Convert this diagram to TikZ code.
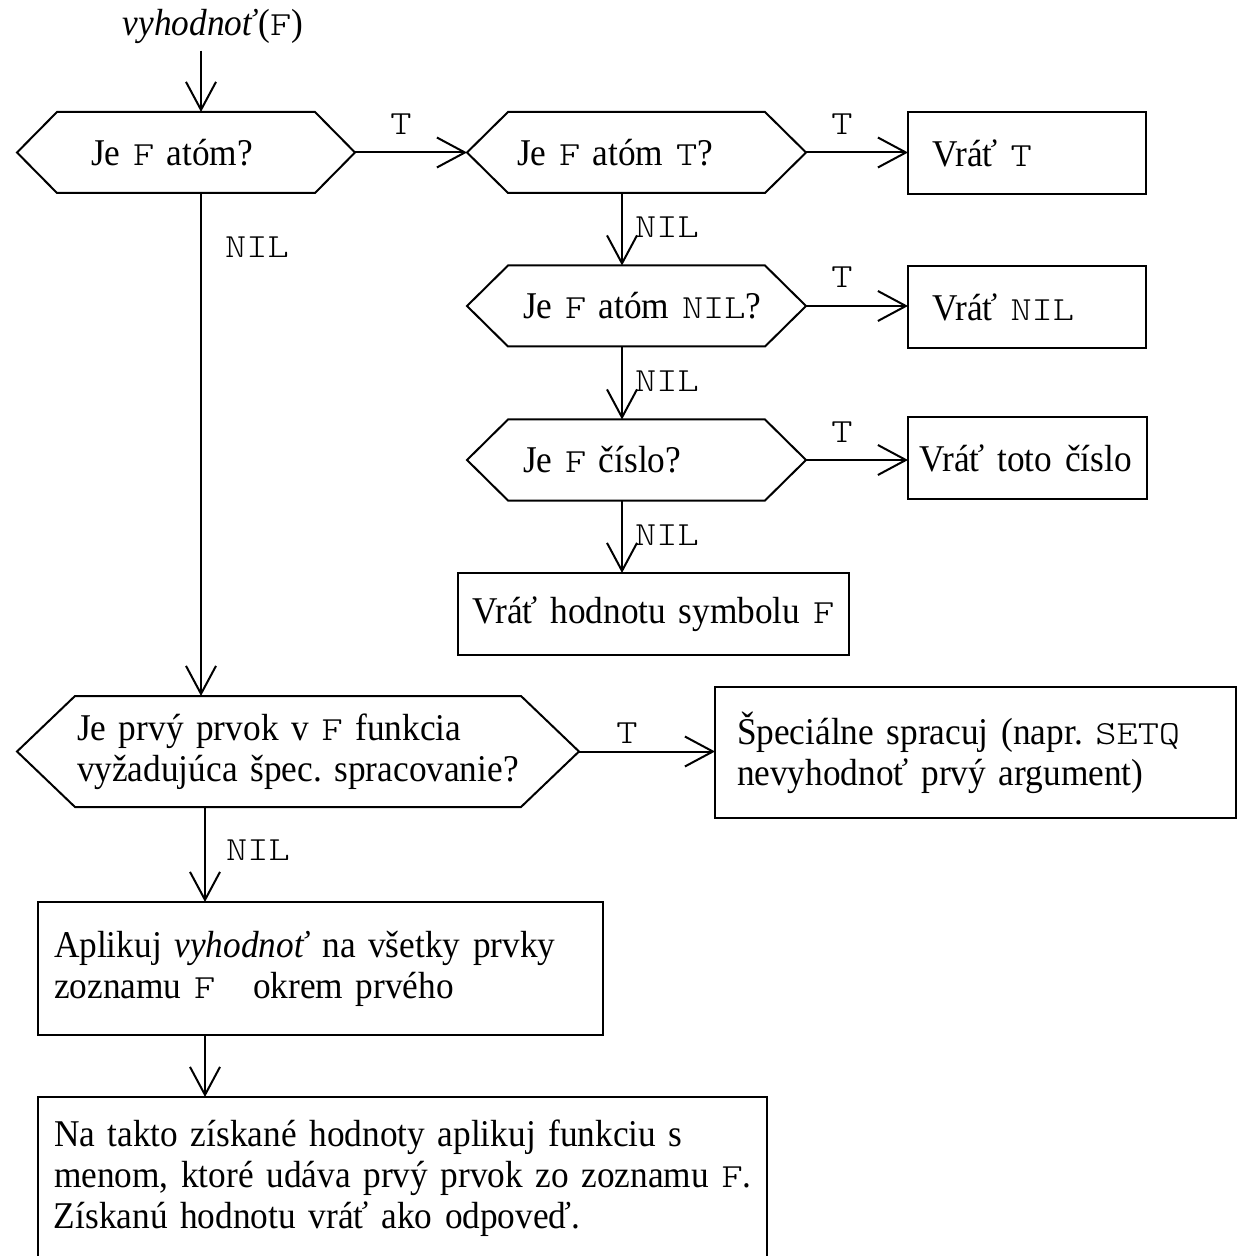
\documentclass[tikz,border=0pt]{standalone}
\usepackage{fontspec}
\setmainfont{Liberation Serif}[FakeStretch=0.934]
\setmonofont{lmmonolt10-regular.otf}[Scale=0.894, FakeStretch=1.195]
\usetikzlibrary{arrows.meta}
\newcommand{\drawhex}[2]{%
  \draw[lw] (#1.north west) -- (#1.north east) -- ([xshift=#2]#1.east) coordinate (#1r)
    -- (#1.south east) -- (#1.south west) -- ([xshift=-#2]#1.west) coordinate (#1l) -- cycle;}
\begin{document}
\frenchspacing
\begin{tikzpicture}[x=0.5pt,y=-0.5pt,
  every node/.style={font=\fontsize{18.9pt}{20.5pt}\selectfont\frenchspacing},
  lw/.style={line width=1pt},
  arr/.style={lw,-{Straight Barb[length=14pt,width=15pt]}},
  boxnode/.style={draw,lw,align=left,inner ysep=0pt,outer sep=0pt},
  hexin/.style={draw=none,align=left,inner ysep=0pt,outer sep=0pt},
  lbl/.style={font=\fontsize{18.9pt}{20.5pt}\selectfont\ttfamily,inner sep=0pt}]
\useasboundingbox (0,0) rectangle (1249,1256);

% title
\node[inner sep=0pt, anchor=base] (title) at (213,36) {\textit{vyhodnoť}(\texttt{F})};

% decisions (inner rectangles; hexagon outlines drawn below)
\node[hexin, minimum width=129pt, minimum height=40.5pt, inner xsep=17pt, text width=95pt] (h1) at (186,152.5) {\mbox{Je \texttt{F} atóm?}};
\node[hexin, minimum width=128.5pt, minimum height=40.5pt, inner xsep=4.5pt, text width=119.5pt] (h2) at (636.5,152.5) {\mbox{Je \texttt{F} atóm \texttt{T}?}};
\node[hexin, minimum width=128.5pt, minimum height=40.5pt, inner xsep=7.5pt, text width=113.5pt] (h3) at (636.5,306) {\mbox{Je \texttt{F} atóm \texttt{NIL}?}};
\node[hexin, minimum width=128.5pt, minimum height=40.5pt, inner xsep=7.5pt, text width=113.5pt] (h4) at (636.5,460) {\mbox{Je \texttt{F} číslo?}};
\node[hexin, minimum width=223pt, minimum height=55.5pt, inner xsep=1pt, text width=221pt] (h5) at (298,751.5) {\mbox{Je prvý prvok v \texttt{F} funkcia}\\\mbox{vyžadujúca špec. spracovanie?}};

\drawhex{h1}{20pt}
\drawhex{h2}{20.5pt}
\drawhex{h3}{20.5pt}
\drawhex{h4}{20.5pt}
\drawhex{h5}{29pt}

% boxes
\node[boxnode, minimum width=119pt, minimum height=41pt, inner xsep=12pt, text width=95pt] (b1) at (1027,153) {\mbox{Vráť \texttt{T}}};
\node[boxnode, minimum width=119pt, minimum height=41pt, inner xsep=12pt, text width=95pt] (b2) at (1027,307) {\mbox{Vráť \texttt{NIL}}};
\node[boxnode, minimum width=119.5pt, minimum height=41pt, inner xsep=5.5pt, text width=108.5pt] (b3) at (1027.5,458) {\mbox{Vráť toto číslo}};
\node[boxnode, minimum width=195.5pt, minimum height=41pt, inner xsep=7pt, text width=181.5pt] (b4) at (653.5,614) {\mbox{Vráť hodnotu symbolu \texttt{F}}};
\node[boxnode, minimum width=260.5pt, minimum height=65.5pt, inner xsep=11pt, text width=238.5pt] (b5) at (975.5,752.5) {\mbox{Špeciálne spracuj (napr. \texttt{SETQ}}\\\mbox{nevyhodnoť prvý argument)}};
\node[boxnode, minimum width=282.5pt, minimum height=66.5pt, inner xsep=8pt, text width=266.5pt] (b6) at (320.5,968.5) {\mbox{Aplikuj \textit{vyhodnoť} na všetky prvky}\\\mbox{zoznamu \texttt{F}\ \ \ okrem prvého}};
\node[boxnode, minimum width=364.5pt, minimum height=81.5pt, inner xsep=8pt, text width=348.5pt] (b7) at (402.5,1178.5) {\mbox{Na takto získané hodnoty aplikuj funkciu s}\\\mbox{menom, ktoré udáva prvý prvok zo zoznamu \texttt{F}.}\\\mbox{Získanú hodnotu vráť ako odpoveď.}};

% guide coordinates for vertical connectors
\coordinate (sp) at (201,0);
\coordinate (sp2) at (205,0);
\coordinate (sp3) at (622,0);
\coordinate (t0) at ([yshift=-3pt]title.south);

% connectors
\draw[arr] (t0 -| sp) -- (sp |- h1.north);
\draw[arr] (h1r) -- (h2l);
\draw[arr] (h2r) -- (h2r -| b1.west);
\draw[arr] (sp3 |- h2.south) -- (sp3 |- h3.north);
\draw[arr] (h3r) -- (h3r -| b2.west);
\draw[arr] (sp3 |- h3.south) -- (sp3 |- h4.north);
\draw[arr] (h4r) -- (h4r -| b3.west);
\draw[arr] (sp3 |- h4.south) -- (sp3 |- b4.north);
\draw[arr] (sp |- h1.south) -- (sp |- h5.north);
\draw[arr] (h5r) -- (h5r -| b5.west);
\draw[arr] (sp2 |- h5.south) -- (sp2 |- b6.north);
\draw[arr] (sp2 |- b6.south) -- (sp2 |- b7.north);

% branch labels
\node[lbl] (l1) at (401,124) {T};
\node[lbl] (l2) at (842,124) {T};
\node[lbl] (l3) at (842,277) {T};
\node[lbl] (l4) at (842,432) {T};
\node[lbl] (l5) at (627,733) {T};
\node[lbl] (n0) at (257,247) {NIL};
\node[lbl] (n1) at (667,227) {NIL};
\node[lbl] (n2) at (667,381) {NIL};
\node[lbl] (n3) at (667,535) {NIL};
\node[lbl] (n4) at (258,850) {NIL};
\end{tikzpicture}
\end{document}
